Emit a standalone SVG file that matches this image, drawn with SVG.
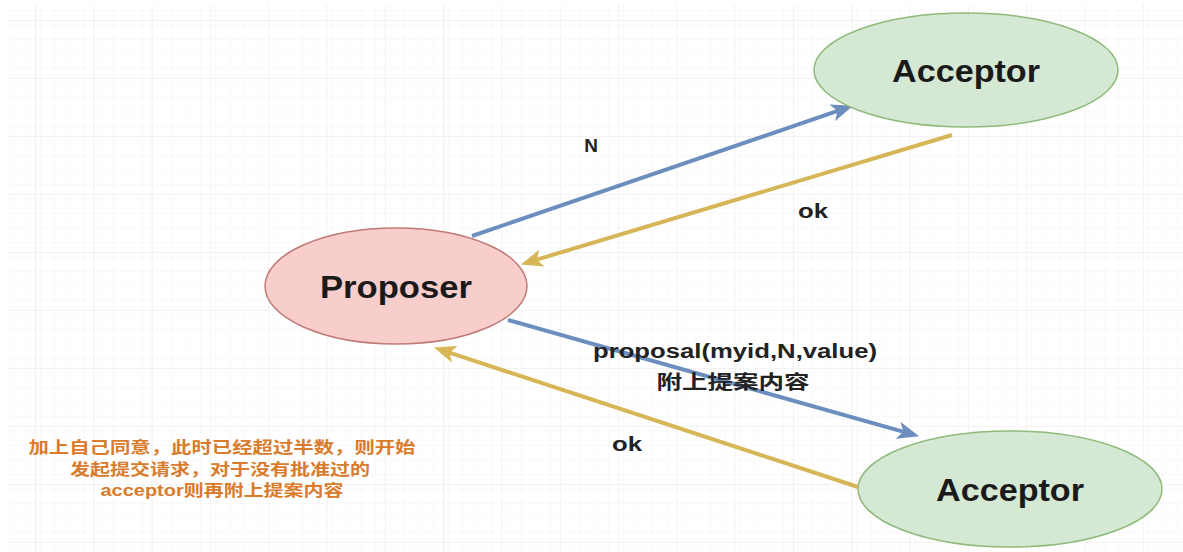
<svg xmlns="http://www.w3.org/2000/svg" width="1183" height="552" viewBox="0 0 1183 552">
  <style>
    .node-label { font-family: "Liberation Sans", Arial, sans-serif; font-weight: bold; fill: #1a1a1a; text-anchor: middle; }
    .edge-label { font-family: "Liberation Sans", "Noto Sans CJK SC", Arial, sans-serif; font-weight: bold; fill: #222222; text-anchor: middle; }
    .note { font-family: "Liberation Sans", "Noto Sans CJK SC", sans-serif; font-weight: bold; fill: #d97b2b; text-anchor: middle; font-size: 16px; }
    .acceptor { fill: #d5e8d4; stroke: #8fba7a; stroke-width: 1.5; }
    .proposer { fill: #f8cecc; stroke: #c07a76; stroke-width: 1.5; }
    .blue { stroke: #6c8ebf; stroke-width: 4; fill: none; }
    .yellow { stroke: #d6b656; stroke-width: 4; fill: none; }
  </style>
  <defs>
    <pattern id="minorGrid" patternUnits="userSpaceOnUse" x="35" y="20" width="14.575" height="14.5">
      <path d="M14.575 0 V14.5 M0 14.5 H14.575" stroke="#f4f4f4" stroke-width="1" fill="none"/>
    </pattern>
    <pattern id="majorGrid" patternUnits="userSpaceOnUse" x="35" y="20" width="58.3" height="58">
      <rect width="58.3" height="58" fill="url(#minorGrid)"/>
      <path d="M0 0 V58 M0 0 H58.3" stroke="#e8e8e8" stroke-width="1.2" fill="none"/>
    </pattern>
    <marker id="headBlue" viewBox="0 0 20 16" markerWidth="22" markerHeight="18" refX="8" refY="8" orient="auto" markerUnits="userSpaceOnUse">
      <path d="M0,0 L20,8 L0,16 L5,8 z" fill="#6c8ebf"/>
    </marker>
    <marker id="headYellow" viewBox="0 0 20 16" markerWidth="22" markerHeight="18" refX="8" refY="8" orient="auto" markerUnits="userSpaceOnUse">
      <path d="M0,0 L20,8 L0,16 L5,8 z" fill="#d6b656"/>
    </marker>
  </defs>

  <!-- background grid -->
  <rect width="1183" height="552" fill="#ffffff"/>
  <rect x="8" y="5" width="1175" height="547" fill="url(#majorGrid)"/>

  <!-- connectors -->
  <g id="connectors">
    <line class="blue" x1="472" y1="236" x2="840.6" y2="109.9" marker-end="url(#headBlue)"/>
    <line class="yellow" x1="952" y1="135" x2="533.5" y2="260.6" marker-end="url(#headYellow)"/>
    <line class="blue" x1="508" y1="320" x2="906.5" y2="432.7" marker-end="url(#headBlue)"/>
    <line class="yellow" x1="858" y1="487" x2="446.4" y2="351.7" marker-end="url(#headYellow)"/>

    <text class="edge-label" x="591" y="152" font-size="19">N</text>
    <text class="edge-label" x="813" y="218" font-size="20" textLength="30" lengthAdjust="spacingAndGlyphs">ok</text>
    <text class="edge-label" x="627" y="451" font-size="20" textLength="30" lengthAdjust="spacingAndGlyphs">ok</text>
    <text class="edge-label" x="735" y="358" font-size="20" textLength="284" lengthAdjust="spacingAndGlyphs">proposal(myid,N,value)</text>
    <text class="edge-label" x="733" y="389" font-size="19" textLength="153" lengthAdjust="spacingAndGlyphs">附上提案内容</text>
  </g>

  <!-- nodes -->
  <g id="acceptor-top">
    <ellipse class="acceptor" cx="966" cy="70" rx="152" ry="57"/>
    <text class="node-label" x="966" y="82" font-size="32" textLength="148" lengthAdjust="spacingAndGlyphs">Acceptor</text>
  </g>
  <g id="proposer">
    <ellipse class="proposer" cx="396" cy="286" rx="131" ry="58"/>
    <text class="node-label" x="396" y="298" font-size="32" textLength="152" lengthAdjust="spacingAndGlyphs">Proposer</text>
  </g>
  <g id="acceptor-bottom">
    <ellipse class="acceptor" cx="1010" cy="489" rx="152" ry="58"/>
    <text class="node-label" x="1010" y="501" font-size="32" textLength="148" lengthAdjust="spacingAndGlyphs">Acceptor</text>
  </g>

  <!-- note -->
  <g id="note">
    <text class="note" x="222" y="453" textLength="387" lengthAdjust="spacingAndGlyphs">加上自己同意，此时已经超过半数，则开始</text>
    <text class="note" x="220" y="475" textLength="300" lengthAdjust="spacingAndGlyphs">发起提交请求，对于没有批准过的</text>
    <text class="note" x="222" y="496" textLength="243" lengthAdjust="spacingAndGlyphs">acceptor则再附上提案内容</text>
  </g>
</svg>
